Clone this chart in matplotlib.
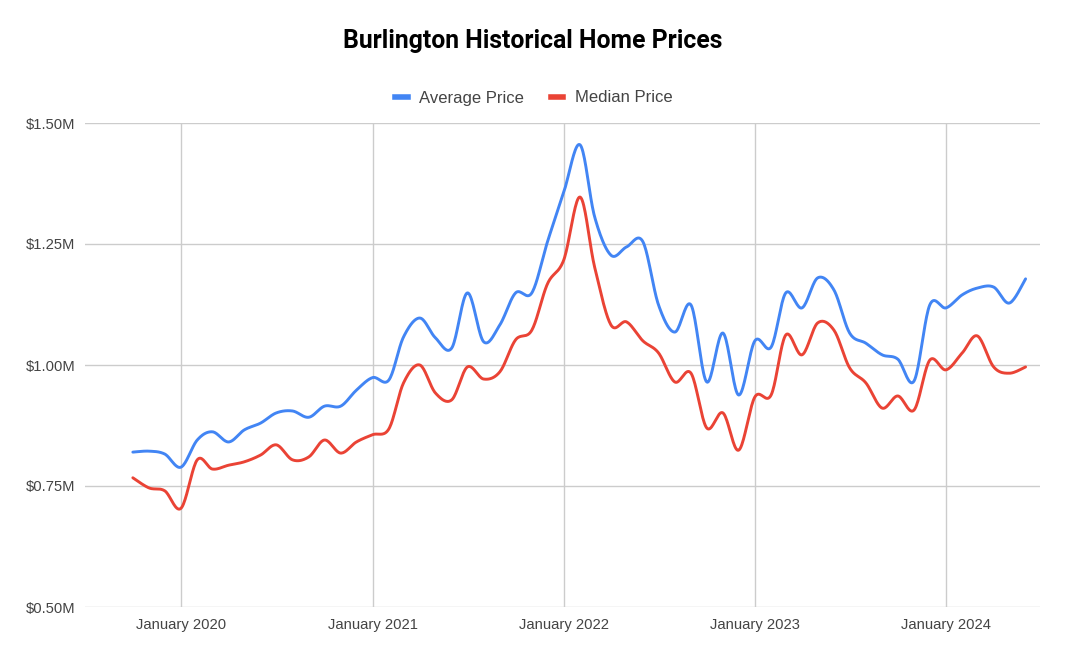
import numpy as np
import matplotlib
matplotlib.use("Agg")
import matplotlib.pyplot as plt
import matplotlib.dates as mdates
from matplotlib.ticker import FuncFormatter
from matplotlib.lines import Line2D
import datetime as dt

plt.rcParams['font.family'] = ['Liberation Sans', 'DejaVu Sans']

# ---- data (monthly, Oct 2019 .. Jun 2024), in $M ----
start_year, start_month = 2019, 10
average_price = [0.820, 0.822, 0.816, 0.789, 0.845, 0.862, 0.841, 0.866, 0.880, 0.901,
                 0.905, 0.892, 0.915, 0.915, 0.948, 0.974, 0.969, 1.058, 1.097, 1.056,
                 1.035, 1.149, 1.048, 1.083, 1.149, 1.149, 1.255, 1.357, 1.455, 1.306,
                 1.227, 1.244, 1.255, 1.124, 1.068, 1.124, 0.965, 1.066, 0.938, 1.050,
                 1.037, 1.149, 1.118, 1.180, 1.155, 1.066, 1.045, 1.021, 1.012, 0.967,
                 1.124, 1.118, 1.145, 1.159, 1.161, 1.128, 1.178]
median_price = [0.767, 0.746, 0.740, 0.704, 0.804, 0.785, 0.793, 0.800, 0.814, 0.835,
                0.804, 0.810, 0.845, 0.818, 0.841, 0.856, 0.868, 0.963, 1.000, 0.942,
                0.928, 0.996, 0.971, 0.986, 1.052, 1.072, 1.168, 1.217, 1.347, 1.202,
                1.083, 1.089, 1.050, 1.025, 0.965, 0.983, 0.870, 0.901, 0.824, 0.934,
                0.938, 1.062, 1.021, 1.087, 1.072, 0.994, 0.963, 0.911, 0.936, 0.907,
                1.010, 0.990, 1.025, 1.060, 0.996, 0.983, 0.996]
series_names = ["Average Price", "Median Price"]
series_colors = ["#4285F4", "#EA4335"]
y_ticks = [0.50, 0.75, 1.00, 1.25, 1.50]
x_tick_years = [2020, 2021, 2022, 2023, 2024]
title = "Burlington Historical Home Prices"

n = len(average_price)
dates = []
y, m = start_year, start_month
for _ in range(n):
    dates.append(dt.date(y, m, 1))
    m += 1
    if m > 12:
        m = 1
        y += 1
xnum = mdates.date2num(dates)


def smooth(xs, ys, k=0.5, steps=20):
    xs = np.asarray(xs, float); ys = np.asarray(ys, float)
    px, py = [], []
    N = len(xs)
    for i in range(N - 1):
        i0 = max(i - 1, 0); i3 = min(i + 2, N - 1)
        mx1 = k * (xs[i + 1] - xs[i0]); my1 = k * (ys[i + 1] - ys[i0])
        mx2 = k * (xs[i3] - xs[i]); my2 = k * (ys[i3] - ys[i])
        t = np.linspace(0, 1, steps, endpoint=(i == N - 2))
        h00 = 2*t**3 - 3*t**2 + 1; h10 = t**3 - 2*t**2 + t
        h01 = -2*t**3 + 3*t**2; h11 = t**3 - t**2
        px.append(h00*xs[i] + h10*mx1 + h01*xs[i+1] + h11*mx2)
        py.append(h00*ys[i] + h10*my1 + h01*ys[i+1] + h11*my2)
    return np.concatenate(px), np.concatenate(py)


fig = plt.figure(figsize=(10.67, 6.59), dpi=100)
ax = fig.add_axes([85/1067, 52/659, (1040-85)/1067, (607-123)/659])

for vals, name, col in zip([average_price, median_price], series_names, series_colors):
    sx, sy = smooth(xnum, vals)
    ax.plot(sx, sy, color=col, lw=2.1, solid_capstyle='round', zorder=3)

jan2020 = mdates.date2num(dt.date(2020, 1, 1))
jan2024 = mdates.date2num(dt.date(2024, 1, 1))
ppd = (946 - 181) / (jan2024 - jan2020)
ax.set_xlim(jan2020 - (181 - 85) / ppd, jan2024 + (1040 - 946) / ppd)
ax.set_ylim(0.50, 1.50)

ax.set_yticks(y_ticks)
ax.yaxis.set_major_formatter(FuncFormatter(lambda v, p: f"${v:.2f}M"))
ax.set_xticks([mdates.date2num(dt.date(yy, 1, 1)) for yy in x_tick_years])
ax.set_xticklabels([f"January {yy}" for yy in x_tick_years])

ax.grid(True, color="#cccccc", lw=1)
ax.set_axisbelow(True)
for s in ax.spines.values():
    s.set_visible(False)
ax.tick_params(length=0, labelsize=10.6, colors="#444444")
ax.tick_params(axis='y', pad=7)
ax.tick_params(axis='x', pad=8)

fig.text(533/1067, 1 - 41/659, title, ha='center', va='center',
         fontsize=17.8, fontweight='bold', color='#000000', family=['Roboto', 'DejaVu Sans'])

handles = [Line2D([0], [0], color=c, lw=4) for c in series_colors]
leg = fig.legend(handles, series_names, loc='center', bbox_to_anchor=(534/1067, 1 - 98/659),
                 ncol=2, frameon=False, fontsize=12, handlelength=0.75, handletextpad=0.7,
                 columnspacing=1.6, labelcolor="#444444")

fig.savefig("out.png", dpi=100)
